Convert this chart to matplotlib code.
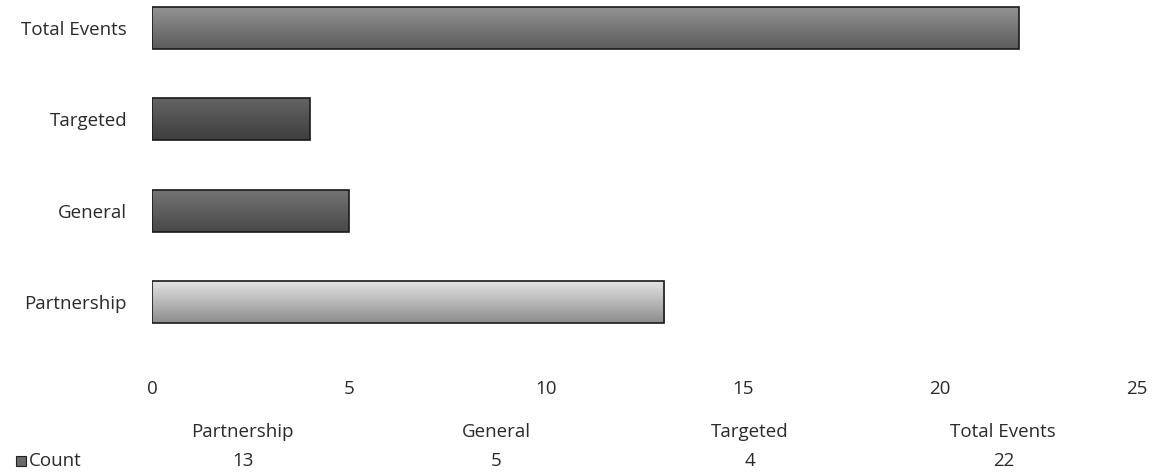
import matplotlib.pyplot as plt
import numpy as np

categories = ['Partnership', 'General', 'Targeted', 'Total Events']
counts = [13, 5, 4, 22]
bar_colors = ['#b0b0b0', '#5a5a5a', '#4e4e4e', '#727272']
series_name = 'Count'

plt.rcParams['font.family'] = ['Open Sans', 'DejaVu Sans']
fs = 13.5

fig = plt.figure(figsize=(11.58, 4.73), dpi=100)
W, H = 1158, 473
# axes placed in pixel terms
left, right, top, bottom = 152, 1137, 5, 374
ax = fig.add_axes([left / W, 1 - bottom / H, (right - left) / W, (bottom - top) / H])

y = np.arange(len(categories))
bars = ax.barh(y, counts, height=0.46, color=bar_colors, edgecolor='#1a1a1a', linewidth=1.2)

# simple shading to mimic the bevelled bars: lighter on top, darker at the bottom
for b in bars:
    x0, y0 = b.get_x(), b.get_y()
    w, h = b.get_width(), b.get_height()
    base = np.array(plt.matplotlib.colors.to_rgb(b.get_facecolor()))
    n = 50
    img = np.zeros((n, 1, 3))
    for i in range(n):
        t = i / (n - 1)
        f = 1.3 - 0.5 * t
        img[i, 0] = np.clip(base * f, 0, 1)
    im = ax.imshow(img, extent=[x0, x0 + w, y0, y0 + h], aspect='auto', origin='upper', zorder=2)
    im.set_clip_path(b)
    b.set_zorder(3)
    b.set_facecolor('none')

ax.set_xlim(0, 25)
ax.set_ylim(-(bottom - 302) / 91.3, 3 + (28 - top) / 91.3)
ax.set_xticks([0, 5, 10, 15, 20, 25])
ax.set_yticks(y)
ax.set_yticklabels(categories)
ax.tick_params(length=0, labelsize=fs, colors='#2a2a2a')
ax.tick_params(axis='y', pad=18)
ax.tick_params(axis='x', pad=4)
for s in ax.spines.values():
    s.set_visible(False)

# data table below the chart
col_left, col_right = 116, 1130
col_w = (col_right - col_left) / len(categories)
for i, (c, v) in enumerate(zip(categories, counts)):
    cx = (col_left + col_w * (i + 0.5)) / W
    fig.text(cx, 1 - 432 / H, c, ha='center', va='center', fontsize=fs, color='#2a2a2a')
    fig.text(cx, 1 - 461 / H, str(v), ha='center', va='center', fontsize=fs, color='#2a2a2a')

fig.text(29 / W, 1 - 461 / H, series_name, ha='left', va='center', fontsize=fs, color='#2a2a2a')
fig.patches.append(plt.Rectangle((16 / W, 1 - 466 / H), 10 / W, 10 / H, transform=fig.transFigure,
                                 facecolor='#6a6a6a', edgecolor='#222222', linewidth=0.8))

fig.savefig('out.png', dpi=100)
